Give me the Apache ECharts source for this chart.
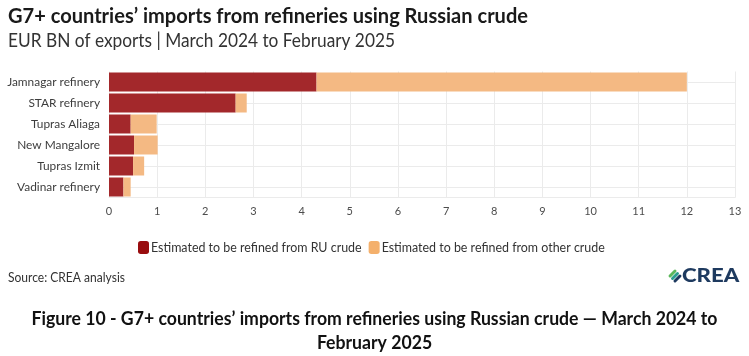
<!DOCTYPE html>
<html>
<head>
<meta charset="utf-8">
<script src="https://cdn.jsdelivr.net/npm/echarts@6/dist/echarts.min.js"></script>
<style>
html,body{margin:0;padding:0;background:#fff;}
#chart{width:749px;height:356px;}
</style>
</head>
<body>
<div id="chart"></div>
<script>
// ---- data ----
const categories = ['Jamnagar refinery', 'STAR refinery', 'Tupras Aliaga', 'New Mangalore', 'Tupras Izmit', 'Vadinar refinery'];
const ruCrude = [4.31, 2.63, 0.45, 0.52, 0.50, 0.30];
const otherCrude = [7.69, 0.23, 0.54, 0.49, 0.23, 0.15];
const seriesNames = ['Estimated to be refined from RU crude', 'Estimated to be refined from other crude'];
const xMin = 0, xMax = 13, xStep = 1;

const titleText = 'G7+ countries\u2019 imports from refineries using Russian crude';
const subtitleText = 'EUR BN of exports | March 2024 to February 2025';
const sourceText = 'Source: CREA analysis';
const caption1 = 'Figure 10 - G7+ countries\u2019 imports from refineries using Russian crude \u2014 March 2024 to';
const caption2 = 'February 2025';

// ---- text fitting helpers ----
const mctx = document.createElement('canvas').getContext('2d');
function measure(text, weight, size, family) {
  mctx.font = weight + ' ' + size + 'px ' + family;
  return mctx.measureText(text).width;
}
function fit(text, weight, family, target) {
  return 100 * target / measure(text, weight, 100, family);
}
const SANS = 'Lato';

const titleSize = 21;
const titleScale = 520 / measure(titleText, 'bold', titleSize, SANS);
const subSize = 18.5;
const subScale = 387 / measure(subtitleText, 'normal', subSize, SANS);
const ySize = fit('Jamnagar refinery', 'normal', SANS, 93);
const legSize = fit(seriesNames[0], 'normal', SANS, 211);
const srcSize = 12.5;
const srcScale = 117 / measure(sourceText, 'normal', srcSize, SANS);
const capSize = 18.5;
const capScale = 686 / measure(caption1, 'bold', capSize, SANS);
const logoSize = 18;
const logoScale = 57 / measure('CREA', 'bold', logoSize, SANS);

const chart = echarts.init(document.getElementById('chart'), null, {renderer: 'canvas'});
chart.setOption({
  backgroundColor: '#ffffff',
  animation: false,
  textStyle: {fontFamily: SANS},
  grid: {left: 109, right: 14, top: 71.5, height: 126, containLabel: false},
  xAxis: {
    type: 'value', min: xMin, max: xMax, interval: xStep,
    axisLine: {show: true, lineStyle: {color: '#ebebeb', width: 1}},
    axisTick: {show: false},
    axisLabel: {color: '#4d4d4d', fontSize: 11, margin: 8, fontFamily: SANS},
    splitLine: {show: true, lineStyle: {color: '#ebebeb', width: 1}}
  },
  yAxis: {
    type: 'category', data: categories, inverse: true,
    axisLine: {show: false}, axisTick: {show: false}, splitLine: {show: false},
    axisLabel: {color: '#3d3d3d', fontSize: ySize, margin: 9, fontFamily: SANS}
  },
  legend: {
    left: 133, top: 236,
    itemWidth: 11, itemHeight: 13, itemGap: 7,
    icon: 'roundRect',
    textStyle: {color: '#333', fontSize: legSize, fontFamily: SANS, padding: [0, 0, 0, -3]},
    data: [
      {name: seriesNames[0], itemStyle: {color: '#990d0f'}},
      {name: seriesNames[1], itemStyle: {color: '#f4b06c'}}
    ]
  },
  series: [
    {
      name: seriesNames[0], type: 'bar', stack: 'total', data: ruCrude,
      barWidth: 19, z: 10,
      itemStyle: {color: '#a3282b'},
      markLine: {
        silent: true, z: 1, symbol: 'none', label: {show: false},
        lineStyle: {color: '#ebebeb', width: 1, type: 'solid'},
        data: categories.map(c => ({yAxis: c}))
      }
    },
    {
      name: seriesNames[1], type: 'bar', stack: 'total', data: otherCrude,
      barWidth: 19, z: 10,
      itemStyle: {color: '#f4b983'}
    }
  ],
  graphic: [
    {type: 'text', x: 8, y: 16, scaleX: titleScale, style: {text: titleText, fill: '#1a1a1a', font: 'bold ' + titleSize + 'px ' + SANS, verticalAlign: 'middle'}},
    {type: 'text', x: 8, y: 41, scaleX: subScale, style: {text: subtitleText, fill: '#333333', font: 'normal ' + subSize + 'px ' + SANS, verticalAlign: 'middle'}},
    {type: 'text', x: 8, y: 278, scaleX: srcScale, style: {text: sourceText, fill: '#333333', font: 'normal ' + srcSize + 'px ' + SANS, verticalAlign: 'middle'}},
    // CREA logo icon
    {type: 'group', x: 675, y: 276, rotation: Math.PI / 4, children: [
      {type: 'rect', shape: {x: -5, y: -5, width: 10, height: 3, r: 1.5}, style: {fill: '#5cb85c'}},
      {type: 'rect', shape: {x: -5, y: -1.5, width: 10, height: 3, r: 1.5}, style: {fill: '#2a9d8f'}},
      {type: 'rect', shape: {x: -5, y: 2, width: 10, height: 3, r: 1.5}, style: {fill: '#1e3a5f'}}
    ]},
    {type: 'text', x: 682, y: 276, scaleX: logoScale, style: {text: 'CREA', fill: '#1e3a5f', font: '900 ' + logoSize + 'px ' + SANS, verticalAlign: 'middle'}},
    {type: 'text', x: 374.5, y: 319, scaleX: capScale, style: {text: caption1, fill: '#111111', font: 'bold ' + capSize + 'px ' + SANS, align: 'center', verticalAlign: 'middle'}},
    {type: 'text', x: 374.5, y: 343, scaleX: capScale, style: {text: caption2, fill: '#111111', font: 'bold ' + capSize + 'px ' + SANS, align: 'center', verticalAlign: 'middle'}}
  ]
});
</script>
</body>
</html>
